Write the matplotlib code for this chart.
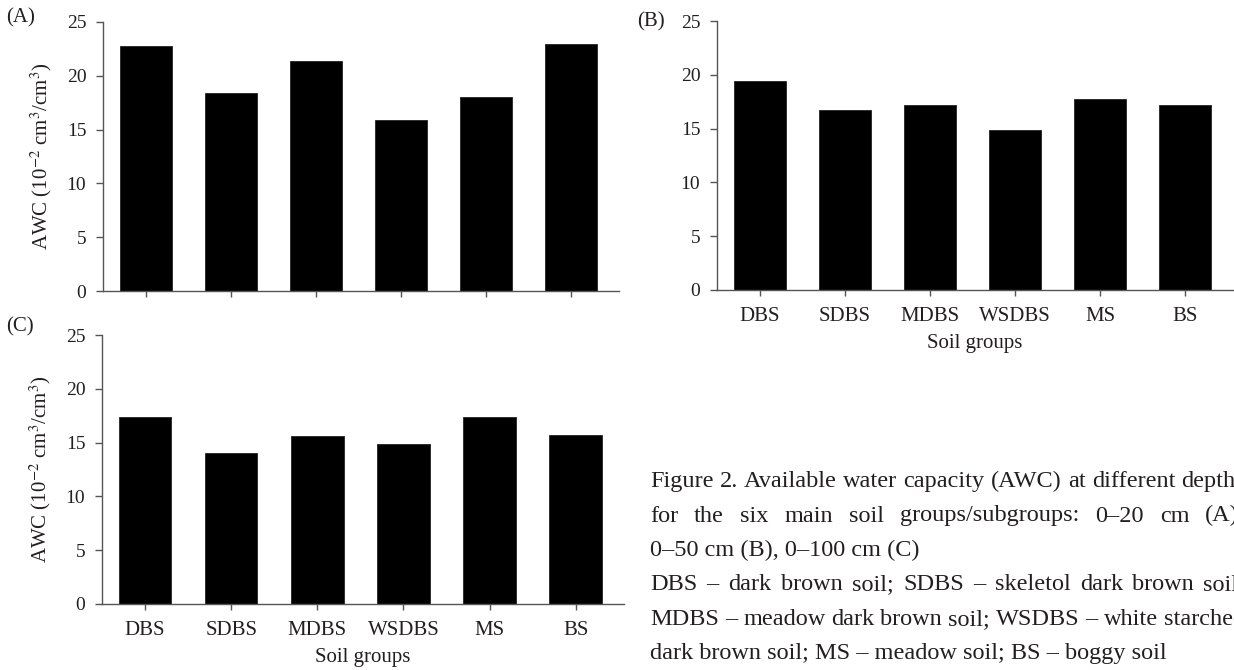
"""Available water capacity by soil group at three depths, plus the figure caption."""

import matplotlib

matplotlib.use("Agg")
import matplotlib.pyplot as plt
import numpy as np

W, H, DPI = 1234, 670, 100

groups = ["DBS", "SDBS", "MDBS", "WSDBS", "MS", "BS"]
awc_0_20 = [22.8, 18.4, 21.35, 15.85, 18.0, 22.95]
awc_0_50 = [19.4, 16.7, 17.15, 14.9, 17.75, 17.15]
awc_0_100 = [17.4, 14.0, 15.6, 14.85, 17.35, 15.7]

caption_lines = [
    ("Figure 2. Available water capacity (AWC) at different depths", True),
    ("for the six main soil groups/subgroups: 0–20 cm (A),", True),
    ("0–50 cm (B), 0–100 cm (C)", False),
    ("DBS – dark brown soil; SDBS – skeletol dark brown soil;", True),
    ("MDBS – meadow dark brown soil; WSDBS – white starched", True),
    ("dark brown soil; MS – meadow soil; BS – boggy soil", False),
]

INK = "#231f20"
AXIS = "#555555"
SERIF = "Liberation Serif"

plt.rcParams["font.family"] = SERIF
plt.rcParams["mathtext.fontset"] = "stix"
plt.rcParams["text.color"] = INK


def px_axes(fig, left, top, right, bottom):
    """Axes placed by pixel box (origin top-left)."""
    return fig.add_axes([left / W, 1 - bottom / H, (right - left) / W, (bottom - top) / H])


def bar_panel(ax, values, ylabel=True, xlabels=True):
    x = np.arange(len(groups))
    ax.bar(x, values, width=0.61, color="black", edgecolor="#222222", linewidth=0.6)
    ax.set_xlim(-0.5, 5.56)
    ax.set_ylim(0, 25)
    ax.set_yticks(np.arange(0, 26, 5))
    ax.set_xticks(x)
    if xlabels:
        ax.set_xticklabels(groups, fontsize=15, color=INK)
        ax.set_xlabel("Soil groups", fontsize=15, color=INK, labelpad=6)
    else:
        ax.set_xticklabels([])
    if ylabel:
        ax.set_ylabel(r"AWC (10$^{-2}$ cm$^{3}$/cm$^{3}$)", fontsize=15, color=INK, labelpad=9)
    for side in ("top", "right"):
        ax.spines[side].set_visible(False)
    for side in ("left", "bottom"):
        ax.spines[side].set_color(AXIS)
        ax.spines[side].set_linewidth(1.0)
    ax.tick_params(axis="y", length=5, width=1.0, color=AXIS, pad=7, labelsize=14, labelcolor=INK)
    ax.tick_params(axis="x", length=4, width=1.0, color=AXIS, pad=8)


def justified_line(fig, text, x0, x1, y, justify, **kw):
    """Draw one caption line, stretching word gaps to fill x0..x1 (pixels)."""
    if not justify:
        fig.text(x0 / W, 1 - y / H, text, va="baseline", ha="left", **kw)
        return
    renderer = fig.canvas.get_renderer()
    words = text.split(" ")
    widths = []
    for w in words:
        t = fig.text(0, 0, w, **kw)
        widths.append(t.get_window_extent(renderer).width)
        t.remove()
    min_gap = 0.18 * kw.get("fontsize", 12) * DPI / 72
    gap = max(min_gap, (x1 - x0 - sum(widths)) / (len(words) - 1))
    x = x0
    for w, wd in zip(words, widths):
        fig.text(x / W, 1 - y / H, w, va="baseline", ha="left", **kw)
        x += wd + gap


fig = plt.figure(figsize=(W / DPI, H / DPI), dpi=DPI)
fig.patch.set_facecolor("white")

ax_a = px_axes(fig, 103, 22, 619, 291)
bar_panel(ax_a, awc_0_20, ylabel=True, xlabels=False)

ax_b = px_axes(fig, 717, 21, 1233, 290)
bar_panel(ax_b, awc_0_50, ylabel=False, xlabels=True)

ax_c = px_axes(fig, 102, 335, 624, 604)
bar_panel(ax_c, awc_0_100, ylabel=True, xlabels=True)

for label, (lx, ly) in {"(A)": (6, 18), "(B)": (637, 22), "(C)": (6, 327)}.items():
    fig.text(lx / W, 1 - ly / H, label, fontsize=15, va="center", ha="left")

for i, (line, justify) in enumerate(caption_lines):
    justified_line(fig, line, 650, 1245, 487 + i * 34.5, justify, fontsize=17.5)

fig.savefig("out.png", dpi=DPI)
